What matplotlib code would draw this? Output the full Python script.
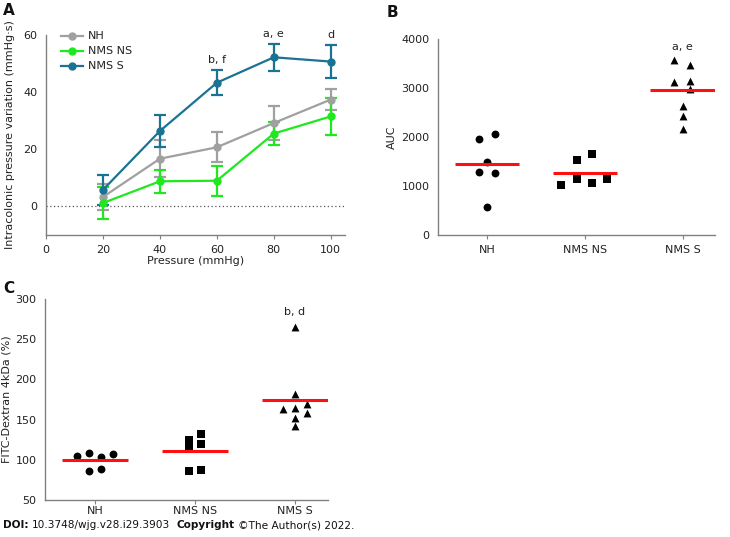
import matplotlib
matplotlib.use("Agg")
import matplotlib.pyplot as plt
from matplotlib.lines import Line2D
import numpy as np

# ---------------- Data ----------------
pressure = [20, 40, 60, 80, 100]
nh_mean = [3.3, 16.7, 20.7, 29.2, 37.4]
nh_err = [4.5, 6.5, 5.2, 5.8, 3.6]
ns_mean = [1.2, 8.8, 9.0, 25.5, 31.5]
ns_err = [5.6, 4.0, 5.3, 3.9, 6.4]
s_mean = [5.8, 26.4, 43.3, 52.2, 50.7]
s_err = [5.2, 5.6, 4.4, 4.7, 5.9]
a_annot = {60: "b, f", 80: "a, e", 100: "d"}

groups = ["NH", "NMS NS", "NMS S"]

auc_nh = [1956, 2058, 1486, 1295, 1274, 566]
auc_nh_dx = [-0.08, 0.08, 0.0, -0.08, 0.08, 0.0]
auc_ns = [1015, 1533, 1145, 1656, 1070, 1145]
auc_ns_dx = [-0.245, -0.085, -0.085, 0.075, 0.075, 0.23]
auc_s = [3564, 3475, 3121, 3148, 2978, 2637, 2419, 2167]
auc_s_dx = [-0.09, 0.075, -0.09, 0.075, 0.075, 0.0, 0.0, 0.0]
auc_means = [1451, 1267, 2957]

fitc_nh = [105, 108, 103, 107, 86, 89]
fitc_nh_dx = [-0.18, -0.063, 0.057, 0.177, -0.063, 0.057]
fitc_ns = [125, 115.6, 131.7, 119.7, 85.7, 87.8]
fitc_ns_dx = [-0.063, -0.063, 0.057, 0.057, -0.063, 0.057]
fitc_s = [163, 182, 165, 169.5, 151.7, 158.7, 142.5, 265]
fitc_s_dx = [-0.12, 0.0, 0.0, 0.117, 0.0, 0.117, 0.0, 0.0]
fitc_means = [99.8, 111, 175]

# ---------------- Figure ----------------
plt.rcParams['font.family'] = ['DejaVu Sans']
W, H = 730, 537
fig = plt.figure(figsize=(W / 100, H / 100), dpi=100)

def ax_px(l, t, r, b):
    return fig.add_axes([l / W, 1 - b / H, (r - l) / W, (b - t) / H])

spine_c = "#808080"
txt_c = "#222222"
fs = 8

def style(ax, xpad=4):
    for s in ["top", "right"]:
        ax.spines[s].set_visible(False)
    for s in ["left", "bottom"]:
        ax.spines[s].set_color(spine_c)
        ax.spines[s].set_linewidth(1)
    ax.tick_params(axis="y", length=0, labelsize=fs, colors=txt_c, pad=6)
    ax.tick_params(axis="x", length=3, color=spine_c, labelsize=fs, colors=txt_c, pad=xpad)

# Panel A
axA = ax_px(46, 35, 345, 235)
style(axA)
axA.axhline(0, color="#555555", ls=(0, (1, 2)), lw=0.9, zorder=0)
series = [("NH", nh_mean, nh_err, "#a0a0a0"),
          ("NMS NS", ns_mean, ns_err, "#1ee81e"),
          ("NMS S", s_mean, s_err, "#1a7392")]
handles = []
for name, m, e, c in series:
    axA.errorbar(pressure, m, yerr=e, color=c, marker="o", ms=5, lw=1.6,
                 elinewidth=1.6, capsize=4.5, capthick=1.6, clip_on=False)
    handles.append(Line2D([], [], color=c, marker="o", ms=5, lw=1.6, label=name))
for x, t in a_annot.items():
    i = pressure.index(x)
    axA.text(x, s_mean[i] + s_err[i] + 1.8, t, ha="center", va="bottom", fontsize=fs, color=txt_c)
axA.set_xlim(0, 105)
axA.set_ylim(-10, 60)
axA.set_xticks([0, 20, 40, 60, 80, 100])
axA.set_yticks([0, 20, 40, 60])
axA.set_xlabel("Pressure (mmHg)", fontsize=fs, color=txt_c, labelpad=1)
axA.set_ylabel("Intracolonic pressure variation (mmHg·s)", fontsize=fs, color=txt_c, labelpad=6)
leg = axA.legend(handles=handles, loc="upper left", bbox_to_anchor=(0.035, 1.04), frameon=False,
                 fontsize=fs, handlelength=2.0, labelspacing=0.45, handletextpad=0.4,
                 borderaxespad=0)
for t in leg.get_texts():
    t.set_color(txt_c)

def scatter_panel(ax, datas, dxs, means, markers, ylim, yticks, ylabel, annot, annot_y, xpad):
    style(ax, xpad)
    sizes = {"o": 32, "s": 30, "^": 32}
    for i, (d, dx, mk) in enumerate(zip(datas, dxs, markers)):
        xs = [i + 1 + v for v in dx]
        ax.scatter(xs, d, marker=mk, s=sizes[mk], color="black",
                   zorder=3, clip_on=False, linewidths=0)
        ax.plot([i + 1 - 0.33, i + 1 + 0.33], [means[i], means[i]], color="#ff1010",
                lw=2.2, zorder=4, solid_capstyle="butt")
    ax.text(3, annot_y, annot, ha="center", va="bottom", fontsize=fs, color=txt_c)
    ax.set_xlim(0.5, 3.33)
    ax.set_ylim(*ylim)
    ax.set_xticks([1, 2, 3])
    ax.set_xticklabels(groups)
    ax.set_yticks(yticks)
    ax.set_ylabel(ylabel, fontsize=fs, color=txt_c, labelpad=3)

# Panel B
axB = ax_px(438, 39, 715, 235)
scatter_panel(axB, [auc_nh, auc_ns, auc_s], [auc_nh_dx, auc_ns_dx, auc_s_dx], auc_means,
              ["o", "s", "^"], (0, 4000), [0, 1000, 2000, 3000, 4000], "AUC", "a, e", 3740, 4)

# Panel C
axC = ax_px(45, 299, 328, 500)
scatter_panel(axC, [fitc_nh, fitc_ns, fitc_s], [fitc_nh_dx, fitc_ns_dx, fitc_s_dx], fitc_means,
              ["o", "s", "^"], (50, 300), [50, 100, 150, 200, 250, 300],
              "FITC-Dextran 4kDa (%)", "b, d", 277, 1)

# Panel labels
for lab, x, y in [("A", 3, 3), ("B", 387, 5), ("C", 3, 281)]:
    fig.text(x / W, 1 - y / H, lab, fontsize=11, fontweight="bold", va="top", ha="left", color="#111111")

# Footer
fy = 1 - 528 / H
ffs = 7.6
t1 = fig.text(3 / W, fy, "DOI:", fontsize=ffs, fontweight="bold", va="baseline", color="#111111")
fig.canvas.draw()
r = fig.canvas.get_renderer()
bb = t1.get_window_extent(r)
t2 = fig.text((bb.x1 + 3) / W, fy, "10.3748/wjg.v28.i29.3903", fontsize=ffs, va="baseline", color="#111111")
bb = t2.get_window_extent(r)
t3 = fig.text((bb.x1 + 7) / W, fy, "Copyright", fontsize=ffs, fontweight="bold", va="baseline", color="#111111")
bb = t3.get_window_extent(r)
fig.text((bb.x1 + 3) / W, fy, "©The Author(s) 2022.", fontsize=ffs, va="baseline", color="#111111")

fig.savefig("out.png", dpi=100)
